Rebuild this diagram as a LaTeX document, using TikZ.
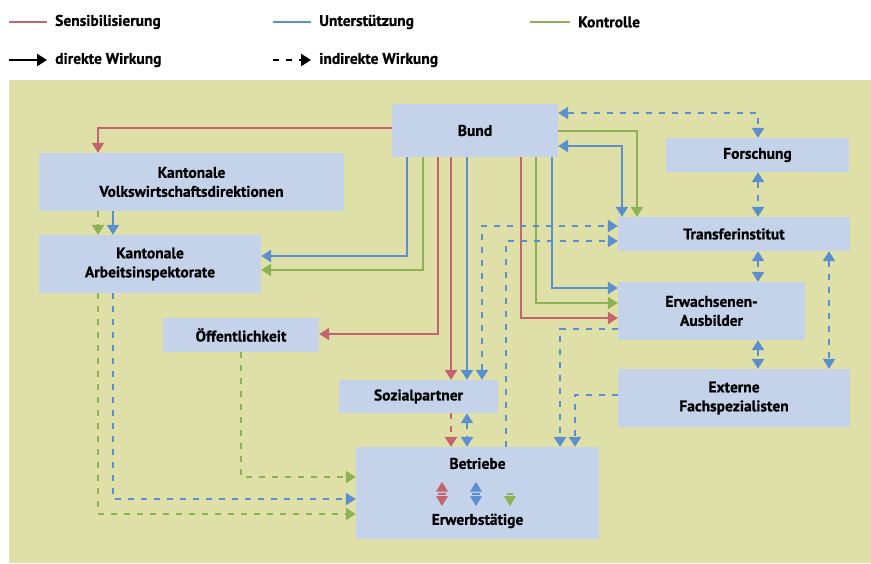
\documentclass[tikz,border=0pt]{standalone}
\usepackage{fontspec}
\setmainfont{PT Sans}[BoldFeatures={FakeBold=0.6}]
\usetikzlibrary{arrows.meta}
\definecolor{cR}{RGB}{196,100,110}
\definecolor{cB}{RGB}{91,143,208}
\definecolor{cG}{RGB}{141,178,85}
\definecolor{cBg}{RGB}{222,224,168}
\definecolor{cBox}{RGB}{196,210,234}
\begin{document}
\begin{tikzpicture}[x=1pt,y=-1pt,
  lbl/.style={font=\fontsize{15.5}{19}\selectfont\bfseries, inner sep=0pt},
  box/.style={fill=cBox, inner sep=0pt, align=center, font=\fontsize{15.5}{19}\selectfont\bfseries},
  con/.style={line width=2.4pt},
  ind/.style={line width=2.4pt, dash pattern=on 6pt off 7pt},
  >={Triangle[width=12pt,length=10pt]}]
\useasboundingbox (0,0) rectangle (871,563);
\fill[white] (0,0) rectangle (871,563);
\fill[cBg] (9,80) rectangle (871,563);
% legend
\draw[con,cR] (9,22) -- (47,22);
\node[lbl,anchor=west] (l1) at (55,22) {Sensibilisierung};
\draw[con,cB] (273,22) -- (311,22);
\node[lbl,anchor=west] (l2) at (319,22) {Unterstützung};
\draw[con,cG] (530,22) -- (570,22);
\node[lbl,anchor=west] (l3) at (578,22) {Kontrolle};
\draw[con,black,->] (9,60) -- (47,60);
\node[lbl,anchor=west] (l4) at (55,60) {direkte Wirkung};
\draw[con,black,dash pattern=on 6pt off 7pt,->] (273,60) -- (311,60);
\node[lbl,anchor=west] (l5) at (319,60) {indirekte Wirkung};
% boxes
\node[box,minimum width=166pt,minimum height=53pt] (bund) at (475,130.5) {Bund};
\node[box,minimum width=183pt,minimum height=34pt] (forsch) at (757.5,155) {Forschung};
\node[box,minimum width=232pt,minimum height=34pt] (trans) at (734,234) {Transferinstitut};
\node[box,minimum width=187pt,minimum height=58pt] (erw) at (711.5,311) {Erwachsenen-\\Ausbilder};
\node[box,minimum width=232pt,minimum height=58pt] (ext) at (734,398) {Externe\\Fachspezialisten};
\node[box,minimum width=243pt,minimum height=92pt] (betr) at (477.5,493) {Betriebe\\[37pt]Erwerbstätige};
\node[box,minimum width=159pt,minimum height=33pt] (sozial) at (418.5,396.5) {Sozialpartner};
\node[box,minimum width=305pt,minimum height=58pt] (vwd) at (191.5,182) {Kantonale\\Volkswirtschaftsdirektionen};
\node[box,minimum width=222pt,minimum height=58pt] (ai) at (150,264) {Kantonale\\Arbeitsinspektorate};
\node[box,minimum width=156pt,minimum height=34pt] (oeff) at (241,335) {Öffentlichkeit};
% direct
\draw[con,cR,->] (bund.west |- 0,128) -| (vwd.north -| 98,0);
\draw[con,cB,->] (bund.south -| 407,0) |- (ai.east |- 0,256);
\draw[con,cG,->] (bund.south -| 423,0) |- (ai.east |- 0,270);
\draw[con,cR,->] (bund.south -| 438,0) |- (oeff.east |- 0,334);
\draw[con,cR,->] (bund.south -| 451,0) -- (sozial.north -| 451,0);
\draw[con,cB,->] (bund.south -| 467,0) -- (sozial.north -| 467,0);
\draw[con,cR,->] (bund.south -| 521,0) |- (erw.west |- 0,318);
\draw[con,cG,->] (bund.south -| 536,0) |- (erw.west |- 0,303);
\draw[con,cB,->] (bund.south -| 552,0) |- (erw.west |- 0,288);
\draw[con,cB,<->] (bund.east |- 0,146) -| (trans.north -| 622,0);
\draw[con,cG,->] (bund.east |- 0,131) -| (trans.north -| 637,0);
\draw[con,cB,->] (vwd.south -| 113,0) -- (ai.north -| 113,0);
% indirect
\draw[ind,cG,->] (vwd.south -| 98,0) -- (ai.north -| 98,0);
\draw[ind,cG,->] (ai.south -| 98,0) |- (betr.west |- 0,514);
\draw[ind,cB,->] (ai.south -| 113,0) |- (betr.west |- 0,499);
\draw[ind,cG,->] (oeff.south -| 241,0) |- (betr.west |- 0,477);
\draw[ind,cR,->] (sozial.south -| 451,0) -- (betr.north -| 451,0);
\draw[ind,cB,<->] (sozial.south -| 467,0) -- (betr.north -| 467,0);
\draw[ind,cB,<->] (sozial.north -| 482,0) |- (trans.west |- 0,226);
\draw[ind,cB,->] (betr.north -| 506,0) |- (trans.west |- 0,241);
\draw[ind,cB,->] (erw.west |- 0,329) -| (betr.north -| 560,0);
\draw[ind,cB,->] (ext.west |- 0,395) -| (betr.north -| 575,0);
\draw[ind,cB,<->] (bund.east |- 0,113) -| (forsch.north -| 758,0);
\draw[ind,cB,<->] (forsch.south -| 758,0) -- (trans.north -| 758,0);
\draw[ind,cB,<->] (trans.south -| 758,0) -- (erw.north -| 758,0);
\draw[ind,cB,<->] (erw.south -| 758,0) -- (ext.north -| 758,0);
\draw[ind,cB,<->] (trans.south -| 829,0) -- (ext.north -| 829,0);
% icons inside Betriebe
\foreach \c/\x in {cR/442,cB/476}{
  \fill[\c] (\x-6,491.5) -- (\x,482) -- (\x+6,491.5) -- cycle;
  \fill[\c] (\x-4,492.5) rectangle (\x+4,495);
  \fill[\c] (\x-6,496) -- (\x,506) -- (\x+6,496) -- cycle;
}
\fill[cG] (507,492.5) rectangle (513,495);
\fill[cG] (504,496) -- (510,506) -- (516,496) -- cycle;
\end{tikzpicture}
\end{document}
